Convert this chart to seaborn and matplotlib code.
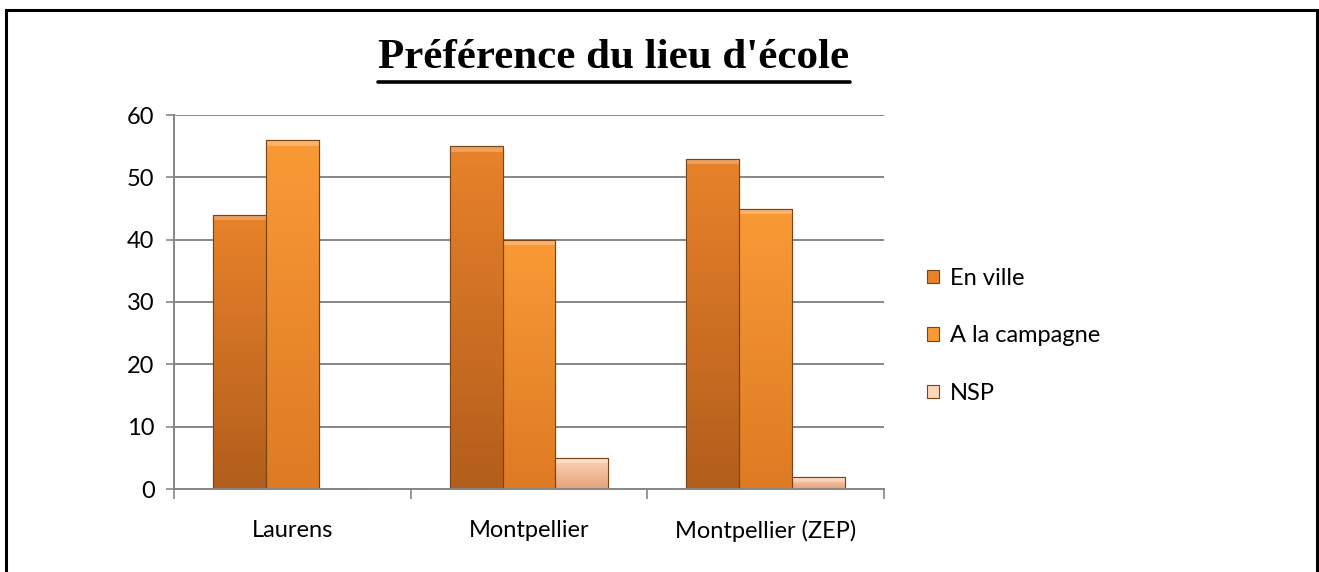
import numpy as np
import pandas as pd
import matplotlib
matplotlib.use("Agg")
import matplotlib.pyplot as plt
import matplotlib.colors as mcolors
from matplotlib.patches import Rectangle
from matplotlib.lines import Line2D
import seaborn as sns

sns.set_style("white")
plt.rcParams['font.family'] = ['Lato', 'DejaVu Sans']
plt.rcParams['text.color'] = 'black'

sites = ['Laurens', 'Montpellier', 'Montpellier (ZEP)']
series = ['En ville', 'A la campagne', 'NSP']
en_ville = [44, 55, 53]
campagne = [56, 40, 45]
nsp = [0, 5, 2]
title = "Préférence du lieu d'école"

# couleurs (bas, haut) du degradé pour chaque série
grad = {
    'En ville': ('#b35e1c', '#e8822a'),
    'A la campagne': ('#de7a24', '#f99a36'),
    'NSP': ('#e6a27c', '#fcd6b8'),
}
flat = {k: v[1] for k, v in grad.items()}

df = pd.DataFrame({
    'site': sites * 3,
    'serie': [s for s in series for _ in sites],
    'valeur': en_ville + campagne + nsp,
})

fig = plt.figure(figsize=(13.19, 5.72), dpi=100)
ax = fig.add_axes([174 / 1319, 1 - 489 / 572, (884 - 174) / 1319, (489 - 115) / 572])

sns.barplot(data=df, x='site', y='valeur', hue='serie', hue_order=series,
            order=sites, palette=flat, width=0.67, gap=0, ax=ax,
            edgecolor='#7a4416', linewidth=0.8, errorbar=None, legend=False)

# degradé vertical dans chaque barre
for bars, name in zip(ax.containers, series):
    cmap = mcolors.LinearSegmentedColormap.from_list(name, grad[name])
    for p in bars:
        h = p.get_height()
        if h <= 0:
            continue
        x0, w = p.get_x(), p.get_width()
        g = np.linspace(0, 1, 64).reshape(-1, 1)
        im = ax.imshow(g, cmap=cmap, origin='lower', aspect='auto',
                       extent=[x0, x0 + w, 0, h], zorder=p.get_zorder() + 0.1)
        im.set_clip_path(p)
        # petit biseau clair en haut
        ax.add_patch(Rectangle((x0, h - 0.9), w, 0.9, color='white', alpha=0.25,
                               lw=0, zorder=p.get_zorder() + 0.2))
        ax.add_patch(Rectangle((x0, 0), w, h, fill=False, edgecolor='#7a4416',
                               lw=0.8, zorder=p.get_zorder() + 0.3))

ax.set_xlim(-0.5, 2.5)
ax.set_ylim(0, 60)
ax.set_yticks(range(0, 61, 10))
ax.set_xlabel('')
ax.set_ylabel('')
ax.yaxis.grid(True, color='#868686', lw=1.4)
ax.set_axisbelow(True)
for s in ['top', 'right']:
    ax.spines[s].set_visible(False)
for s in ['left', 'bottom']:
    ax.spines[s].set_color('#868686')
    ax.spines[s].set_linewidth(1.4)
ax.tick_params(axis='y', length=6, width=1.2, color='#868686', labelsize=17, pad=8,
               direction='out', left=True, labelcolor='black')
ax.tick_params(axis='x', length=0, labelsize=17, pad=22, labelcolor='black')
ax.set_xticks([-0.5, 0.5, 1.5, 2.5], minor=True)
ax.tick_params(axis='x', which='minor', length=7, width=1.2, color='#868686',
               direction='out', bottom=True)

handles = [Rectangle((0, 0), 1, 1, facecolor=flat[s], edgecolor='#7a4416', lw=0.8)
           for s in series]
fig.legend(handles, series, loc='center left', bbox_to_anchor=(906 / 1319, 1 - 336 / 572),
           frameon=False, fontsize=17, handlelength=0.5, handleheight=0.5,
           handletextpad=0.45, labelspacing=1.55)

t = fig.text(614 / 1319, 1 - 58 / 572, title, ha='center', va='center',
             family='Liberation Serif', fontweight='bold', fontsize=31)

# soulignement du titre
fig.canvas.draw()
bb = t.get_window_extent().transformed(fig.transFigure.inverted())
fig.add_artist(Line2D([bb.x0, bb.x1], [1 - 82 / 572] * 2, color='black', lw=2.6,
                      transform=fig.transFigure))

# cadre autour du graphique
fig.add_artist(Rectangle((6 / 1319, -0.02), (1317 - 6) / 1319, (572 - 10) / 572 + 0.02,
                         fill=False, edgecolor='black', lw=2.2, transform=fig.transFigure))

fig.savefig('out.png', dpi=100)
